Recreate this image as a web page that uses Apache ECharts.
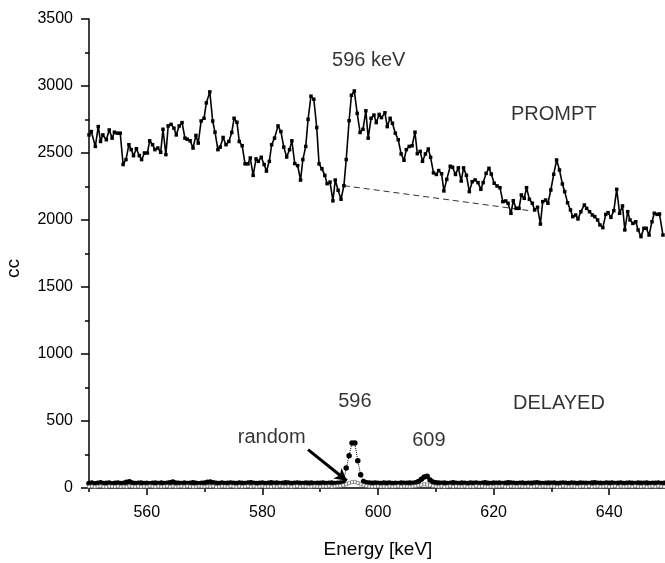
<!DOCTYPE html>
<html>
<head>
<meta charset="utf-8">
<script src="https://cdn.jsdelivr.net/npm/echarts@6/dist/echarts.min.js"></script>
<style>html,body{margin:0;padding:0;background:#fff;}#c{width:665px;height:563px;}</style>
</head>
<body>
<div id="c"></div>
<script>
// ---- data ----
const promptEnergy = [
550.0,550.4,551.1,551.6,552.0,552.4,553.0,553.5,554.0,554.4,554.9,555.4,555.9,556.4,556.9,557.3,557.7,558.2,558.7,559.1,
559.6,560.1,560.5,561.0,561.4,561.9,562.4,562.8,563.3,563.7,564.2,564.7,565.1,565.6,566.1,566.6,567.0,567.5,568.0,568.5,
568.9,569.4,569.9,570.3,570.9,571.4,571.8,572.3,572.7,573.2,573.7,574.2,574.7,575.1,575.6,576.0,576.5,577.0,577.5,577.9,
578.4,578.9,579.3,579.8,580.3,580.7,581.2,581.6,582.1,582.7,583.2,583.7,584.2,584.7,585.1,585.6,586.1,586.6,587.0,587.5,
587.9,588.4,588.9,589.4,589.8,590.3,590.8,591.2,591.7,592.2,592.6,593.1,593.6,594.1,594.5,595.0,595.4,595.9,596.4,596.9,
597.4,597.9,598.3,598.8,599.3,599.7,600.2,600.6,601.2,601.6,602.1,602.5,603.0,603.5,604.0,604.5,604.9,605.4,605.9,606.4,
606.8,607.3,607.7,608.2,608.7,609.1,609.6,610.1,610.5,611.0,611.4,611.9,612.5,612.9,613.4,613.9,614.4,614.8,615.3,615.8,
616.3,616.8,617.3,617.8,618.2,618.7,619.2,619.6,620.1,620.6,621.1,621.6,622.1,622.5,623.0,623.4,623.9,624.4,624.8,625.3,
625.7,626.2,626.7,627.1,627.6,628.1,628.5,629.0,629.4,629.9,630.4,630.9,631.4,631.9,632.3,632.8,633.3,633.7,634.2,634.6,
635.1,635.7,636.1,636.6,637.1,637.5,638.0,638.4,638.9,639.4,639.8,640.3,640.8,641.3,641.8,642.3,642.7,643.2,643.6,644.1,
644.6,645.0,645.5,646.0,646.4,646.9,647.4,647.8,648.3,648.7,649.3
];
const promptCounts = [
2635,2660,2549,2697,2586,2635,2599,2672,2611,2655,2648,2648,2414,2451,2562,2525,2480,2532,2480,2451,
2500,2500,2591,2562,2525,2537,2505,2677,2488,2702,2714,2685,2635,2702,2727,2611,2603,2591,2537,2631,
2574,2739,2759,2874,2956,2739,2655,2525,2544,2616,2562,2586,2653,2759,2729,2586,2554,2419,2419,2463,
2333,2456,2438,2468,2414,2365,2438,2562,2611,2702,2660,2544,2470,2525,2591,2421,2406,2298,2451,2549,
2751,2924,2901,2690,2419,2382,2333,2271,2283,2143,2298,2222,2155,2256,2451,2741,2931,2963,2796,2653,
2677,2815,2611,2759,2783,2727,2788,2764,2800,2697,2759,2722,2648,2599,2493,2446,2525,2549,2554,2655,
2495,2512,2438,2493,2530,2468,2352,2340,2369,2345,2217,2303,2401,2394,2340,2389,2291,2389,2333,2212,
2286,2299,2279,2229,2279,2348,2386,2343,2274,2254,2241,2137,2142,2125,2050,2144,2087,2087,2187,2162,
2241,2154,2125,2075,2095,1970,2137,2149,2125,2224,2341,2448,2373,2269,2212,2129,2075,2025,2037,2008,
2062,2112,2087,2062,2037,2025,2000,1963,1943,2042,2055,2020,2070,2229,2050,2105,1926,2062,2000,1975,
1987,1926,1876,1938,1938,1888,1987,2050,2042,2045,1888
];
// delayed / random spectra: channels of 0.5 keV starting at 550 keV
const channelStart = 550;
const channelWidth = 0.5;
const delayedCounts = [
34,38,32,36,40,33,35,37,31,36, 38,34,36,42,46,38,33,35,37,34,
36,32,35,38,34,37,33,36,40,44, 38,35,33,37,34,36,39,35,32,36,
38,42,45,40,36,34,37,33,35,38, 36,34,38,35,33,37,40,36,34,35,
37,33,36,39,35,38,34,36,40,37, 34,36,38,35,33,37,35,38,34,36,
35,37,34,36,38,33,36,38,40,149, 241,335,335,204,99,49,40,37,35,38,
36,34,37,35,38,33,36,34,37,35, 36,38,35,40,48,65,82,88,60,45,
40,37,35,38,34,36,39,35,33,37, 36,34,38,35,37,33,36,39,35,34,
37,35,38,34,36,40,37,35,33,36, 38,34,36,35,37,39,35,33,36,38,
35,37,34,36,38,35,33,37,36,34, 38,35,36,34,37,39,35,36,33,37,
35,38,34,36,37,33,36,38,35,34, 37,35,36,38,34,36,35,37,33,36,35
];
const randomCounts = [
10,12,9,11,13,10,9,12,11,10, 12,10,11,9,13,11,10,12,9,11,
10,13,11,9,12,10,11,13,10,12, 9,11,12,10,13,11,9,10,12,11,
10,12,11,13,9,10,12,11,10,13, 11,9,12,10,11,13,10,12,9,11,
12,10,11,9,12,10,13,11,10,12, 9,11,13,10,12,11,9,10,12,11,
10,12,11,13,10,12,14,16,20,28, 36,44,46,38,28,20,15,12,10,11,
12,10,11,9,12,10,11,13,10,12, 11,10,12,14,18,24,28,26,20,14,
11,10,12,9,11,13,10,12,11,10, 12,9,11,10,13,11,12,10,9,11,
10,12,11,13,10,9,12,11,10,12, 11,10,12,9,11,13,10,12,11,10,
12,11,9,10,13,11,10,12,11,9, 11,12,10,13,9,11,12,10,11,12,
10,11,13,9,12,10,11,12,10,13, 11,10,12,9,11,12,10,13,11,10,12
];
const baselineEnergy = [594.1, 626.5];
const baselineCounts = [2256, 2068];
const xRange = [550, 650];
const xMinorStep = 10;
const xMajorTicks = [560, 580, 600, 620, 640];
const yTicks = [0, 3500, 500];
const annotations = [
  {text: '596 keV', x: 598.4, y: 3194},
  {text: 'PROMPT', x: 630.4, y: 2784},
  {text: 'DELAYED', x: 631.3, y: 630},
  {text: '596', x: 596.0, y: 645},
  {text: '609', x: 608.8, y: 354},
  {text: 'random', x: 581.6, y: 376}
];
const arrowFrom = [587.9, 286];
const arrowTo = [594.6, 54];

// ---- build series ----
const pair = (xs, ys) => ys.map((v, i) => [xs[i], v]);
const chan = ys => ys.map((v, i) => [channelStart + i * channelWidth, v]);
const FONT = 'Liberation Sans, Arial, sans-serif';
const AX = {color: '#000', width: 1.5};

const chart = echarts.init(document.getElementById('c'), null, {renderer: 'canvas'});
chart.setOption({
  animation: false,
  backgroundColor: '#fff',
  grid: {left: 89, right: -2, top: 19, bottom: 75, containLabel: false, outerBoundsMode: 'none'},
  xAxis: [
    {
      type: 'value', position: 'bottom', min: xRange[0], max: xRange[1], interval: xMinorStep,
      name: 'Energy [keV]', nameLocation: 'middle', nameGap: 52,
      nameTextStyle: {fontSize: 19, color: '#000', fontFamily: FONT},
      axisLine: {lineStyle: AX},
      axisTick: {show: true, inside: false, length: 4, lineStyle: AX},
      axisLabel: {fontSize: 16, color: '#000', fontFamily: FONT, margin: 17, customValues: xMajorTicks},
      splitLine: {show: false}
    },
    {
      type: 'value', position: 'bottom', offset: 0, min: xRange[0], max: xRange[1], interval: xMinorStep,
      axisLine: {show: false},
      axisTick: {show: true, inside: false, length: 7, lineStyle: AX, customValues: xMajorTicks},
      axisLabel: {show: false},
      splitLine: {show: false}
    }
  ],
  yAxis: {
    type: 'value', min: yTicks[0], max: yTicks[1], interval: yTicks[2],
    name: 'cc', nameLocation: 'middle', nameGap: 66,
    nameTextStyle: {fontSize: 19, color: '#000', fontFamily: FONT, padding: [0, 30, 0, 0]},
    axisLine: {show: true, lineStyle: AX},
    axisTick: {show: true, inside: false, length: 8, lineStyle: AX},
    minorTick: {show: true, splitNumber: 2, length: 4, lineStyle: AX},
    axisLabel: {fontSize: 16, color: '#000', fontFamily: FONT, margin: 16, formatter: v => String(v)},
    splitLine: {show: false}
  },
  series: [
    {
      name: 'prompt', type: 'line', data: pair(promptEnergy, promptCounts),
      symbol: 'rect', symbolSize: 3.5, showAllSymbol: true,
      lineStyle: {color: '#000', width: 1.6}, itemStyle: {color: '#000'}, z: 3
    },
    {
      name: 'baseline', type: 'line', data: pair(baselineEnergy, baselineCounts),
      symbol: 'none', lineStyle: {color: '#333', width: 1, type: [6, 4]}, z: 2
    },
    {
      name: 'delayed', type: 'line', data: chan(delayedCounts),
      symbol: 'circle', symbolSize: 5.5, showAllSymbol: true,
      lineStyle: {color: '#000', width: 1, type: 'dotted'}, itemStyle: {color: '#000'}, z: 3
    },
    {
      name: 'random', type: 'line', data: chan(randomCounts),
      symbol: 'rect', symbolSize: 3, showAllSymbol: true,
      lineStyle: {color: '#000', width: 0.6}, itemStyle: {color: '#fff', borderColor: '#555', borderWidth: 0.6}, z: 4,
      markLine: {
        silent: true, symbol: ['none', 'arrow'], symbolSize: [10, 12],
        lineStyle: {color: '#000', width: 3, type: 'solid'}, label: {show: false},
        data: [[{coord: arrowFrom}, {coord: arrowTo}]]
      }
    },
    {
      name: 'annotations', type: 'scatter', symbolSize: 0, z: 5,
      data: annotations.map(a => ({name: a.text, value: [a.x, a.y]})),
      label: {show: true, position: 'inside', formatter: '{b}', fontSize: 20, color: '#000', fontFamily: FONT},
      labelLayout: {hideOverlap: false}
    }
  ]
});
</script>
</body>
</html>
